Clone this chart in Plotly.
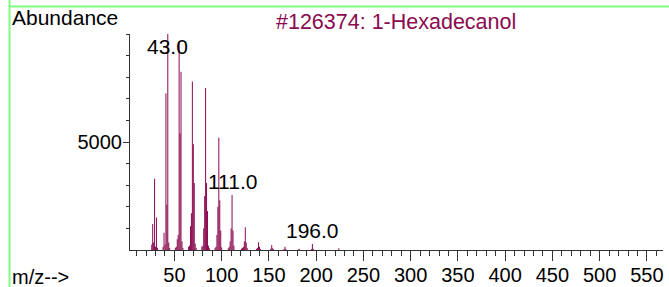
import plotly.graph_objects as go

# ---- data ----
mz = [26, 27, 28, 29, 30, 31, 32,
      38, 39, 40, 41, 42, 43, 44, 45,
      51, 52, 53, 54, 55, 56, 57, 58, 59,
      65, 66, 67, 68, 69, 70, 71, 72, 73,
      79, 80, 81, 82, 83, 84, 85, 86, 87,
      93, 94, 95, 96, 97, 98, 99, 100,
      107, 108, 109, 110, 111, 112, 113,
      121, 122, 123, 124, 125, 126, 127,
      137, 138, 139, 140, 141,
      152, 153, 154, 155,
      166, 167, 168,
      181, 182,
      195, 196, 197,
      224]
abundance = [250, 1200, 350, 3300, 150, 1500, 100,
             150, 800, 250, 7250, 2100, 10000, 350, 100,
             100, 150, 500, 700, 9600, 5400, 8250, 400, 100,
             150, 200, 1100, 1700, 7800, 4900, 3100, 300, 100,
             150, 200, 1000, 2500, 7500, 3100, 1800, 200, 80,
             100, 150, 700, 2000, 5200, 2300, 900, 120,
             80, 150, 400, 1000, 2550, 900, 200,
             60, 100, 150, 400, 1050, 350, 100,
             60, 100, 360, 150, 50,
             60, 230, 80, 40,
             50, 150, 50,
             30, 60,
             40, 280, 50,
             80]

peak_labels_mz = [43, 111, 196]
peak_label_shift = [-12, 13, 13]

x_tick_vals = [50, 100, 150, 200, 250, 300, 350, 400, 450, 500, 550]
y_tick_vals = [5000]
y_minor_vals = [1000, 2000, 3000, 4000, 6000, 7000, 8000, 9000, 10000]

title_text = "#126374: 1-Hexadecanol"
y_title = "Abundance"
x_title = "m/z-->"

# ---- figure ----
W, H = 669, 287
ML, MR, MT, MB = 130, 6, 34, 37
PW, PH = W - ML - MR, H - MT - MB

def px(x):
    return (x - ML) / PW

def py(y):
    return (H - MB - y) / PH

FONT = "Liberation Sans, Arial, sans-serif"
MAROON = "#8B0A50"
AXIS = "#333333"

xs, ys = [], []
for m, a in zip(mz, abundance):
    xs += [m, m, None]
    ys += [0, a, None]

fig = go.Figure()
fig.add_trace(go.Scatter(x=xs, y=ys, mode="lines",
                         line=dict(color=MAROON, width=1),
                         hoverinfo="skip", showlegend=False))

annotations = []
for m, s in zip(peak_labels_mz, peak_label_shift):
    a = abundance[mz.index(m)]
    annotations.append(dict(x=m, y=a, xref="x", yref="y", text=f"{m:.1f}",
                            showarrow=False, xanchor="center", yanchor="middle",
                            yshift=s, font=dict(family=FONT, size=21, color="black")))

annotations += [
    dict(x=px(395.5), y=py(22), xref="paper", yref="paper", text=title_text,
         showarrow=False, xanchor="center", yanchor="middle",
         font=dict(family=FONT, size=21.5, color=MAROON)),
    dict(x=px(10), y=py(18), xref="paper", yref="paper", text=y_title,
         showarrow=False, xanchor="left", yanchor="middle",
         font=dict(family=FONT, size=21, color="black")),
    dict(x=px(10), y=py(277), xref="paper", yref="paper", text=x_title,
         showarrow=False, xanchor="left", yanchor="middle",
         font=dict(family=FONT, size=20, color="black")),
    dict(x=px(10), y=py(-7), xref="paper", yref="paper", text=x_title,
         showarrow=False, xanchor="left", yanchor="middle",
         font=dict(family=FONT, size=20, color="black")),
]

shapes = [
    dict(type="line", xref="paper", yref="paper", x0=px(9.5), x1=px(669), y0=py(6.5), y1=py(6.5),
         line=dict(color="#80FF80", width=2)),
    dict(type="line", xref="paper", yref="paper", x0=px(9.5), x1=px(9.5), y0=py(0), y1=py(287),
         line=dict(color="#80FF80", width=2)),
]

fig.update_layout(
    width=W, height=H,
    margin=dict(l=ML, r=MR, t=MT, b=MB, pad=0, autoexpand=False),
    paper_bgcolor="white", plot_bgcolor="white",
    font=dict(family=FONT, size=20, color="black"),
    annotations=annotations, shapes=shapes,
    showlegend=False,
)
fig.update_xaxes(range=[3, 567], showgrid=False, zeroline=False, automargin=False,
                 showline=True, linecolor=AXIS, linewidth=1,
                 tickmode="array", tickvals=x_tick_vals,
                 ticks="outside", ticklen=10, tickcolor=AXIS, tickwidth=1,
                 ticklabelstandoff=-3,
                 tickfont=dict(family=FONT, size=20, color="black"),
                 minor=dict(dtick=10, tick0=0, ticks="outside", ticklen=5, tickcolor=AXIS, tickwidth=1))
fig.update_yaxes(range=[0, 10000], showgrid=False, zeroline=False, automargin=False,
                 showline=True, linecolor=AXIS, linewidth=1,
                 tickmode="array", tickvals=y_tick_vals,
                 ticks="outside", ticklen=6, tickcolor=AXIS, tickwidth=1,
                 ticklabelstandoff=-3,
                 tickfont=dict(family=FONT, size=20, color="black"),
                 minor=dict(tickmode="array", tickvals=y_minor_vals, ticks="outside", ticklen=3,
                            tickcolor=AXIS, tickwidth=1))

fig.write_html("out.html", config={"displayModeBar": False},
               post_script="document.body.style.margin='0px';document.body.style.overflow='hidden';")
